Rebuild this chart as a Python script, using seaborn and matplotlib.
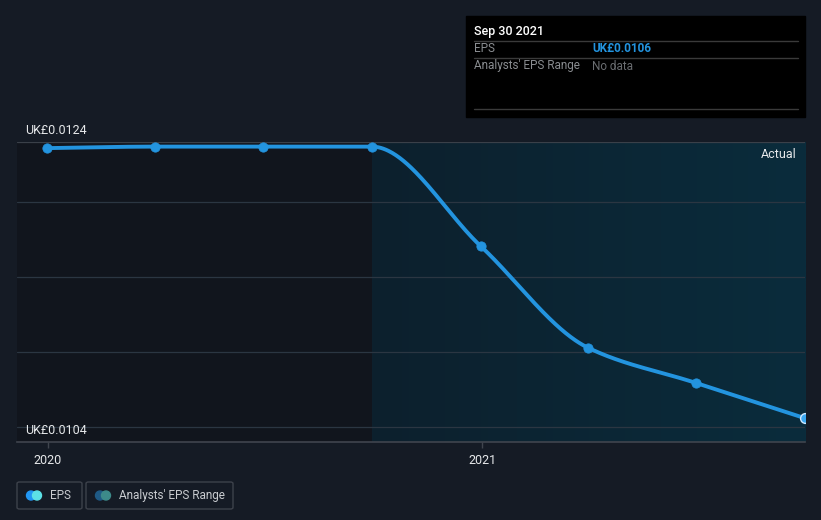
import numpy as np
import pandas as pd
import matplotlib
matplotlib.use("Agg")
import matplotlib.pyplot as plt
import matplotlib.dates as mdates
import seaborn as sns
from matplotlib.patches import Rectangle, FancyBboxPatch, Ellipse
from matplotlib.colors import LinearSegmentedColormap

# ---- data ----
dates = ["2019-12-31", "2020-03-31", "2020-06-30", "2020-09-30",
         "2020-12-31", "2021-03-31", "2021-06-30", "2021-09-30"]
eps = [0.01236, 0.01237, 0.01237, 0.01237, 0.01172, 0.01106, 0.01083, 0.01060]
xtick_labels = ["2020", "2021"]
ytick_labels = ["UK£0.0124", "UK£0.0104"]
tooltip_date = "Sep 30 2021"
tooltip_eps = "UK£0.0106"
split_date = "2020-09-30"
legend_labels = ["EPS", "Analysts' EPS Range"]

BG = "#151b25"
LINE = "#2394df"

sns.set_theme(style="dark")
plt.rcParams["font.family"] = ["Roboto", "DejaVu Sans"]

fig = plt.figure(figsize=(8.21, 5.2), dpi=100, facecolor=BG)
W, H = 821, 520
ax = fig.add_axes([17 / W, 78 / H, (805 - 17) / W, 300 / H])
ax.set_facecolor(BG)

xd = mdates.date2num(pd.to_datetime(dates))
y = np.array(eps)
x0 = mdates.date2num(pd.Timestamp("2019-12-05 20:00"))
x1 = mdates.date2num(pd.Timestamp("2021-09-30 08:00"))
ylo, yhi = 0.010444, 0.0124

# background regions
xs = mdates.date2num(pd.Timestamp(split_date))
ax.add_patch(Rectangle((x0, ylo), xs - x0, yhi - ylo, color="#11151d", zorder=0, lw=0))
cmap = LinearSegmentedColormap.from_list("g", ["#0d202d", "#0a2c3c"])
ax.imshow(np.linspace(0, 1, 256).reshape(1, -1), cmap=cmap, aspect="auto",
          extent=[xs, x1, ylo, yhi], zorder=0.5, origin="lower")
ax.set_xlim(x0, x1)
ax.set_ylim(ylo, yhi)

# gridlines
for gy in [0.0124, 0.012009, 0.01152, 0.01103, 0.010542]:
    ax.axhline(gy, color="#2b3642" if gy < 0.0124 else "#3a4049", lw=0.9, zorder=1)

# monotone cubic interpolation (d3 curveMonotoneX style)
def pchip(x, y, xn):
    h = np.diff(x)
    d = np.diff(y) / h
    m = np.zeros_like(y)
    for k in range(1, len(y) - 1):
        if d[k - 1] * d[k] <= 0:
            m[k] = 0
        else:
            w1 = 2 * h[k] + h[k - 1]
            w2 = h[k] + 2 * h[k - 1]
            m[k] = (w1 + w2) / (w1 / d[k - 1] + w2 / d[k])
    m[0] = d[0]
    m[-1] = d[-1]
    out = np.empty_like(xn)
    for i, xv in enumerate(xn):
        k = min(np.searchsorted(x, xv, side="right") - 1, len(x) - 2)
        k = max(k, 0)
        t = (xv - x[k]) / h[k]
        h00 = 2 * t**3 - 3 * t**2 + 1
        h10 = t**3 - 2 * t**2 + t
        h01 = -2 * t**3 + 3 * t**2
        h11 = t**3 - t**2
        out[i] = h00 * y[k] + h10 * h[k] * m[k] + h01 * y[k + 1] + h11 * h[k] * m[k + 1]
    return out

xn = np.linspace(xd[0], xd[-1], 600)
curve = pd.DataFrame({"x": xn, "y": pchip(xd, y, xn)})
sns.lineplot(data=curve, x="x", y="y", ax=ax, color=LINE, lw=2.8, zorder=3)
pts = pd.DataFrame({"x": xd[:-1], "y": y[:-1]})
sns.scatterplot(data=pts, x="x", y="y", ax=ax, color=LINE, s=45, edgecolor=LINE, zorder=4)
ax.scatter([xd[-1]], [y[-1]], s=50, color="#3aa8f0", edgecolor="#cfe9ff", lw=1.0, zorder=5)

# axes styling
for s in ["top", "right", "left"]:
    ax.spines[s].set_visible(False)
ax.spines["bottom"].set_color("#40454e")
ax.spines["bottom"].set_linewidth(1.2)
ax.set_xlabel("")
ax.set_ylabel("")
ax.set_yticks([])
tick_x = mdates.date2num(pd.to_datetime(["2020-01-01", "2021-01-01"]))
ax.set_xticks(tick_x)
ax.set_xticklabels(xtick_labels, color="#e6e8ea", fontsize=9)
ax.tick_params(axis="x", length=4, width=1, color="#40454e", pad=5, bottom=True)
ax.grid(False)

# y labels
fig.text(25 / W, 1 - 130 / H, ytick_labels[0], color="#e6e8ea", fontsize=9, va="center", ha="left")
fig.text(25 / W, 1 - 431 / H, ytick_labels[1], color="#e6e8ea", fontsize=9, va="center", ha="left")
fig.text(797 / W, 1 - 154 / H, "Actual", color="#e6e8ea", fontsize=9, va="center", ha="right")

# tooltip box
fig.patches.append(Rectangle((466 / W, 1 - 117 / H), (805 - 466) / W, (117 - 16) / H,
                             transform=fig.transFigure, color="#000000", zorder=5))
for ly in [41, 58, 109]:
    fig.lines.append(plt.Line2D([474 / W, 798 / W], [1 - ly / H] * 2, transform=fig.transFigure,
                                color="#3a3a3a", lw=1, zorder=6))
fig.text(474 / W, 1 - 31 / H, tooltip_date, color="#ffffff", fontsize=9, fontweight="medium", va="center", zorder=7)
fig.text(474 / W, 1 - 49 / H, "EPS", color="#8a8d91", fontsize=8.5, va="center", zorder=7)
fig.text(592 / W, 1 - 49 / H, tooltip_eps, color="#2394df", fontsize=8.5, fontweight="bold", va="center", zorder=7)
fig.text(474 / W, 1 - 66 / H, "Analysts' EPS Range", color="#8a8d91", fontsize=8.5, va="center", zorder=7)
fig.text(592 / W, 1 - 66 / H, "No data", color="#6a6d71", fontsize=8.5, va="center", zorder=7)

# legend
def dot(cx, cy, c, z):
    fig.patches.append(Ellipse((cx / W, 1 - cy / H), 9 / W, 9 / H,
                               transform=fig.transFigure, color=c, zorder=z))

for (xl, xr, c1, c2, label) in [(17, 82, "#2196f3", "#5ce1e6", legend_labels[0]),
                                (86, 233, "#1f5a85", "#3d8a8a", legend_labels[1])]:
    fig.patches.append(FancyBboxPatch((xl / W, 1 - 509 / H), (xr - xl) / W, 27 / H,
                                      boxstyle="round,pad=0,rounding_size=0.003",
                                      transform=fig.transFigure, facecolor="none",
                                      edgecolor="#3d424b", lw=1))
    dot(xl + 14, 495.5, c1, 3)
    dot(xl + 20, 495.5, c2, 4)
    fig.text((xl + 33) / W, 1 - 495.5 / H, label, color="#c9ccd0", fontsize=8.5, va="center")

fig.savefig("out.png", dpi=100, facecolor=BG)
